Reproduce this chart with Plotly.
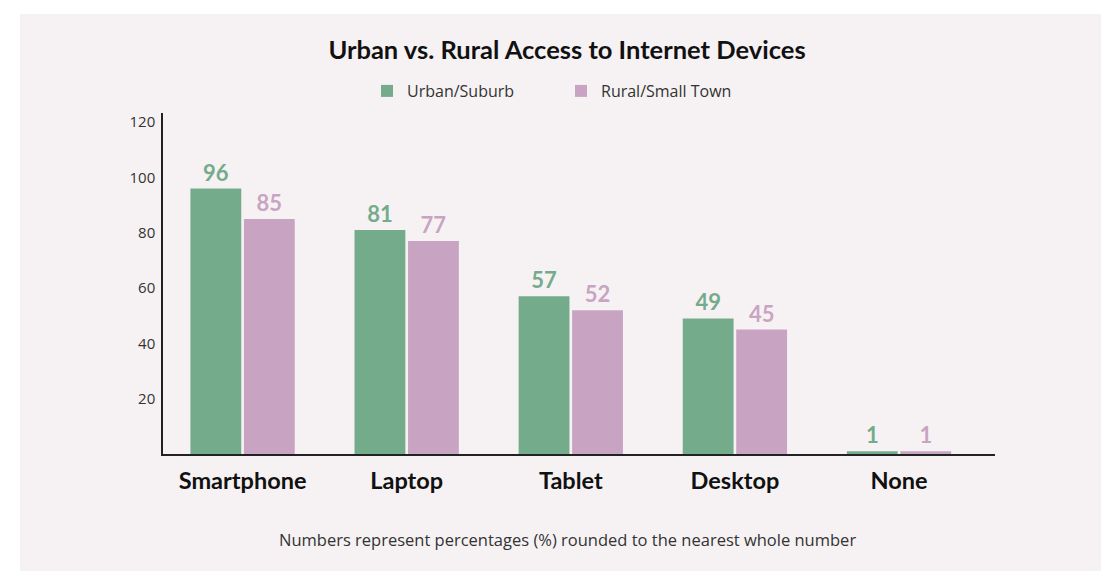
import plotly.graph_objects as go

# Device access by community type, percent of respondents
devices = ["Smartphone", "Laptop", "Tablet", "Desktop", "None"]
urban_suburb = [96, 81, 57, 49, 1]
rural_small_town = [85, 77, 52, 45, 1]
y_ticks = [20, 40, 60, 80, 100, 120]

GREEN = "#74AB8B"
PINK = "#C9A4C2"
PANEL = "#F6F2F3"
BOLD_FONT = "Lato"
TEXT_FONT = "Open Sans"

W, H = 1101, 571
L, R, T, B = 163, 106, 113, 117
pw, ph = W - L - R, H - T - B

fig = go.Figure()
fig.add_trace(go.Bar(
    name="Urban/Suburb", x=devices, y=urban_suburb,
    marker=dict(color=GREEN, line=dict(width=0)),
    text=urban_suburb, texttemplate="<b>%{text}</b>", textposition="outside",
    textfont=dict(family=BOLD_FONT, size=22, color=GREEN), cliponaxis=False,
))
fig.add_trace(go.Bar(
    name="Rural/Small Town", x=devices, y=rural_small_town,
    marker=dict(color=PINK, line=dict(width=0)),
    text=rural_small_town, texttemplate="<b>%{text}</b>", textposition="outside",
    textfont=dict(family=BOLD_FONT, size=22, color=PINK), cliponaxis=False,
))

# light panel behind the whole chart
fig.add_shape(
    type="rect", xref="paper", yref="paper", layer="below",
    x0=(20 - L) / pw, x1=(W + 10 - L) / pw,
    y0=-(H + 10 - (T + ph)) / ph, y1=(T + ph - 14) / ph,
    fillcolor=PANEL, line=dict(width=0),
)

fig.add_annotation(
    text="Numbers represent percentages (%) rounded to the nearest whole number",
    xref="paper", yref="paper", x=(567 - L) / pw, y=-(539 - (T + ph)) / ph,
    xanchor="center", yanchor="middle", showarrow=False,
    font=dict(family=TEXT_FONT, size=16.5, color="#333333"),
)

fig.update_layout(
    width=W, height=H,
    margin=dict(l=L, r=R, t=T, b=B, pad=0, autoexpand=False),
    paper_bgcolor="white", plot_bgcolor="rgba(0,0,0,0)",
    barmode="group", bargap=0.348, bargroupgap=0.05,
    title=dict(
        text="<b>Urban vs. Rural Access to Internet Devices</b>",
        x=567 / W, xanchor="center", y=1 - 50 / H, yanchor="middle",
        font=dict(family=BOLD_FONT, size=25.5, color="#111111"),
    ),
    legend=dict(
        orientation="h", x=367 / W, xref="container", xanchor="left",
        y=1 - 91 / H, yref="container", yanchor="middle",
        font=dict(family=TEXT_FONT, size=16, color="#333333"),
        bgcolor="rgba(0,0,0,0)", entrywidth=149, itemclick=False,
    ),
    showlegend=True,
)
fig.update_xaxes(
    range=[-0.485, 4.585], showline=True, linecolor="#222222", linewidth=2,
    showgrid=False, ticks="", ticklabelstandoff=5, automargin=False,
    tickfont=dict(family=BOLD_FONT, size=23.5, color="#111111", weight="bold"),
)
fig.update_yaxes(
    range=[0, 123.3], showline=True, linecolor="#222222", linewidth=1.5,
    showgrid=False, zeroline=False, ticks="", tickvals=y_ticks,
    ticklabelstandoff=3, automargin=False,
    tickfont=dict(family=TEXT_FONT, size=15, color="#333333"),
)

fig.write_html("out.html")
